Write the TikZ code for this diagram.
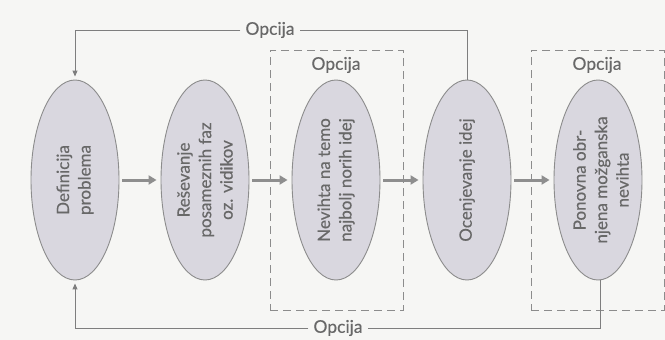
\documentclass[tikz,border=0pt]{standalone}
\usepackage{fontspec}
\setmainfont{Lato}
\newfontfamily\diafont[FakeBold=0.4]{Lato}
\usetikzlibrary{shapes.geometric,arrows.meta}
\definecolor{bg}{HTML}{F6F6F4}
\definecolor{ellfill}{HTML}{D9D7DF}
\definecolor{ellline}{HTML}{8C8C8C}
\definecolor{txt}{HTML}{686868}
\definecolor{conncol}{HTML}{7E7E7E}
\definecolor{flowcol}{HTML}{8E8E8E}
\begin{document}
\begin{tikzpicture}[x=1pt,y=-1pt,
  ell/.style={ellipse, draw=ellline, line width=0.9pt, fill=ellfill, minimum width=88pt, minimum height=200pt, inner sep=0pt},
  etext/.style={rotate=90, align=center, text=txt, font=\diafont\fontsize{17}{21.5}\selectfont, inner sep=0pt},
  lab/.style={text=txt, font=\diafont\fontsize{17.5}{19}\selectfont, inner xsep=5pt, inner ysep=1pt},
  dashbox/.style={draw=ellline, line width=1pt, dash pattern=on 8pt off 5pt, minimum width=133pt, minimum height=260pt, inner sep=0pt},
  conn/.style={draw=conncol, line width=1pt},
  connarrow/.style={conn, -{Triangle[length=6pt,width=5pt]}, shorten >=3pt},
  flow/.style={draw=flowcol, line width=3pt, -{Triangle[length=8pt,width=9pt]}, shorten <=3pt, shorten >=4pt}
]
\fill[bg] (0,0) rectangle (665,340);
\useasboundingbox (0,0) rectangle (665,340);

% dashed option boxes
\node[dashbox] (b1) at (336.5,180) {};
\node[dashbox] (b2) at (597.5,180) {};
\node[lab] (ob1) at (336,65) {Opcija};
\node[lab] (ob2) at (597,65) {Opcija};

% ellipses
\node[ell] (e1) at (75,180) {};
\node[ell] (e2) at (205,180) {};
\node[ell] (e3) at (336,180) {};
\node[ell] (e4) at (467,180) {};
\node[ell] (e5) at (598,180) {};

\node[etext] (t1) at (e1.center) {Definicija\\problema};
\node[etext] (t2) at (e2.center) {Reševanje\\posameznih faz\\oz. vidikov};
\node[etext] (t3) at (e3.center) {Nevihta na temo\\najbolj norih idej};
\node[etext] (t4) at (e4.center) {Ocenjevanje idej};
\node[etext] (t5) at (601,180) {Ponovna obr-\\njena možganska\\nevihta};

% flow arrows
\draw[flow] (e1) -- (e2);
\draw[flow] (e2) -- (e3);
\draw[flow] (e3) -- (e4);
\draw[flow] (e4) -- (e5);

% feedback loops
\node[lab] (o1) at (270,30) {Opcija};
\node[lab] (o2) at (338,328) {Opcija};
\draw[conn] (e4.north) |- (o1.east);
\draw[connarrow] (o1.west) -| (e1.north);
\draw[conn] (600,280) |- (o2.east);
\draw[connarrow] (o2.west) -| (e1.south);
\end{tikzpicture}
\end{document}
